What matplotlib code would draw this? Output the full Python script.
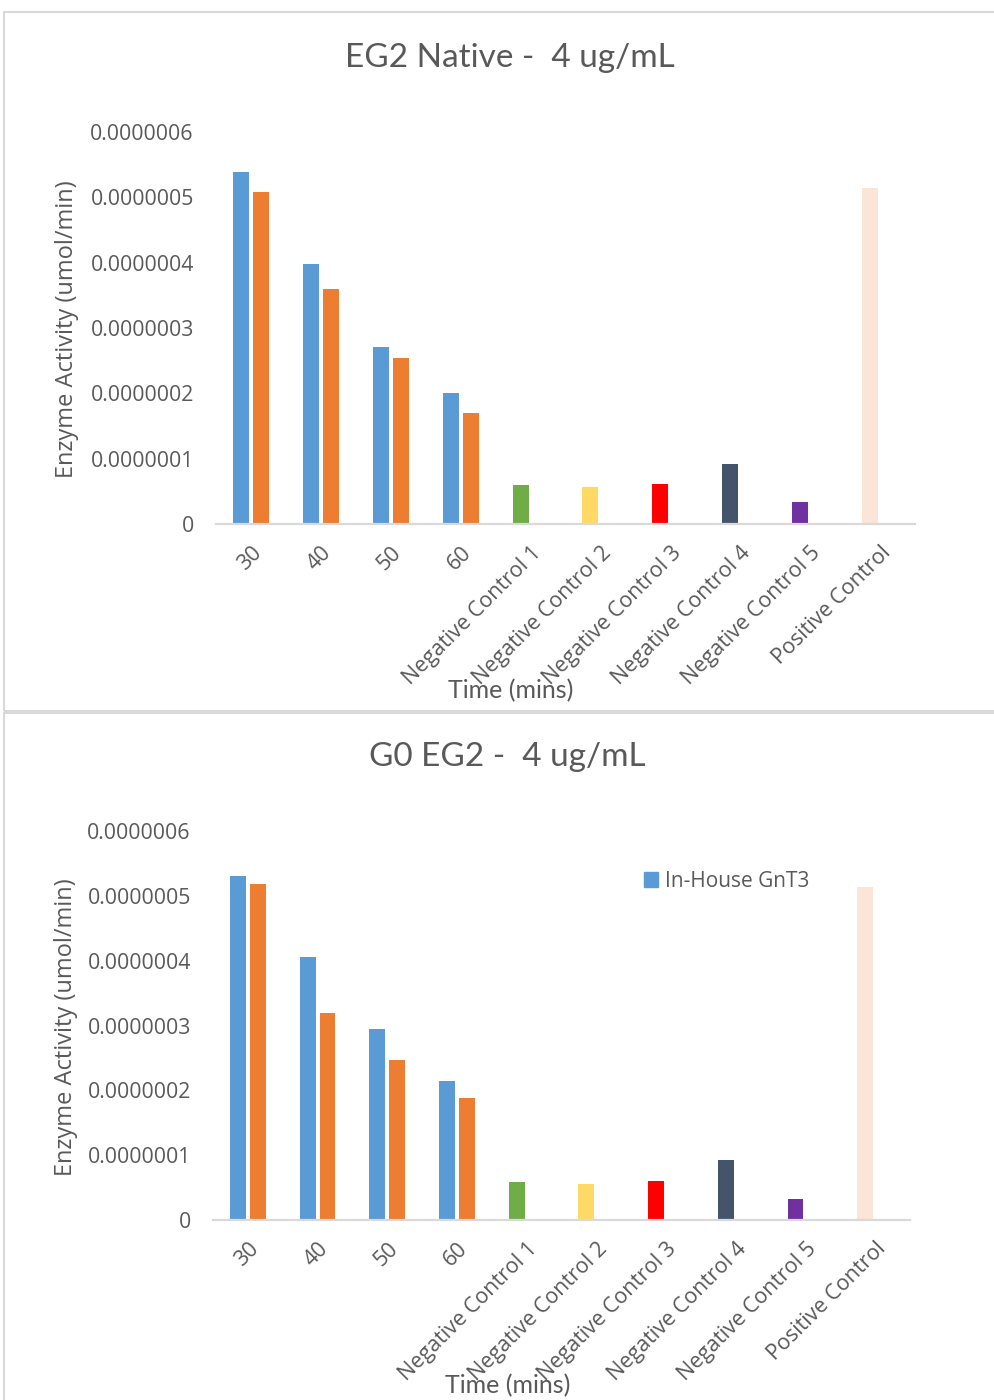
import matplotlib.pyplot as plt
import numpy as np
from matplotlib.patches import Rectangle, Patch
from matplotlib.ticker import FixedLocator, FuncFormatter
from matplotlib.transforms import ScaledTranslation

# sample groups on the x axis
categories = ['30', '40', '50', '60',
              'Negative Control 1', 'Negative Control 2', 'Negative Control 3',
              'Negative Control 4', 'Negative Control 5', 'Positive Control']

# EG2 Native - enzyme activity (umol/min)
native_gnt3 = [5.39e-7, 3.98e-7, 2.71e-7, 2.01e-7, 0.60e-7, 0.57e-7, 0.615e-7, 0.92e-7, 0.34e-7, 5.15e-7]
native_second = [5.08e-7, 3.60e-7, 2.545e-7, 1.70e-7]

# G0 EG2 - enzyme activity (umol/min)
g0_gnt3 = [5.31e-7, 4.05e-7, 2.94e-7, 2.15e-7, 0.585e-7, 0.555e-7, 0.60e-7, 0.925e-7, 0.33e-7, 5.14e-7]
g0_second = [5.19e-7, 3.19e-7, 2.47e-7, 1.88e-7]

point_colors = ['#5B9BD5', '#5B9BD5', '#5B9BD5', '#5B9BD5',
                '#70AD47', '#FFD966', '#FF0000', '#44546A', '#7030A0', '#FBE5D6']
second_color = '#ED7D31'
text_color = '#595959'
grid_color = '#D9D9D9'

yticks = [0, 1e-7, 2e-7, 3e-7, 4e-7, 5e-7, 6e-7]

fig = plt.figure(figsize=(9.95, 14), dpi=100)

# chart frames
fig.add_artist(Rectangle((4/995, 1 - 711/1400), 1.2, 699/1400, transform=fig.transFigure,
                         fill=False, edgecolor=grid_color, linewidth=1.5))
fig.add_artist(Rectangle((4/995, -0.05), 1.2, 1 - 713/1400 + 0.05, transform=fig.transFigure,
                         fill=False, edgecolor=grid_color, linewidth=1.5))


def fmt(v, pos):
    return '0' if v == 0 else f'{v:.7f}'


def draw(ax, first, second, title, title_xy, ylab_xy, xlab_xy):
    x = np.arange(len(categories))
    w = 0.229
    ax.bar(x - 0.143, first, width=w, color=point_colors, linewidth=0)
    ax.bar(x[:len(second)] + 0.143, second, width=w, color=second_color, linewidth=0)
    ax.set_xlim(-0.5, len(categories) - 0.5)
    ax.set_ylim(0, 6e-7)
    ax.yaxis.set_major_locator(FixedLocator(yticks))
    ax.yaxis.set_major_formatter(FuncFormatter(fmt))
    ax.set_xticks(x)
    ax.set_xticklabels(categories, rotation=45, ha='right', va='top',
                       rotation_mode='anchor', fontsize=15.5, color=text_color,
                       family='Open Sans')
    # nudge the slanted labels a little to the left
    shift = ScaledTranslation(-3/100, 0, fig.dpi_scale_trans)
    for lab in ax.get_xticklabels():
        lab.set_transform(lab.get_transform() + shift)
    for lab in ax.get_yticklabels():
        lab.set_family('Open Sans')
    ax.tick_params(axis='y', length=0, pad=16, labelsize=15.3, labelcolor=text_color)
    ax.tick_params(axis='x', length=0, pad=13)
    for s in ['top', 'right', 'left']:
        ax.spines[s].set_visible(False)
    ax.spines['bottom'].set_color(grid_color)
    ax.spines['bottom'].set_linewidth(1.6)
    fig.text(title_xy[0], title_xy[1], title, ha='center', va='center',
             fontsize=24, color=text_color, family='Lato')
    fig.text(ylab_xy[0], ylab_xy[1], 'Enzyme Activity (umol/min)', rotation=90,
             ha='center', va='center', fontsize=17, color=text_color, family='Open Sans')
    fig.text(xlab_xy[0], xlab_xy[1], 'Time (mins)', ha='center', va='center',
             fontsize=18, color=text_color, family='Lato')


ax1 = fig.add_axes([216/995, 1 - 524/1400, 699/995, 392/1400])
draw(ax1, native_gnt3, native_second, 'EG2 Native -  4 ug/mL',
     (510/995, 1 - 58/1400), (67/995, 1 - 329/1400), (511/995, 1 - 691/1400))

ax2 = fig.add_axes([213/995, 1 - 1220/1400, 697/995, 389/1400])
draw(ax2, g0_gnt3, g0_second, 'G0 EG2 -  4 ug/mL',
     (507/995, 1 - 757/1400), (66/995, 1 - 1027/1400), (508/995, 1 - 1386/1400))
ax2.legend(handles=[Patch(color=point_colors[0], label='In-House GnT3')],
           loc='center left', bbox_to_anchor=(625/995, 1 - 881/1400),
           bbox_transform=fig.transFigure, frameon=False,
           handlelength=0.7, handleheight=0.7, handletextpad=0.3,
           labelcolor=text_color, prop={'family': 'Open Sans', 'size': 15})

fig.savefig('out.png', dpi=100)
